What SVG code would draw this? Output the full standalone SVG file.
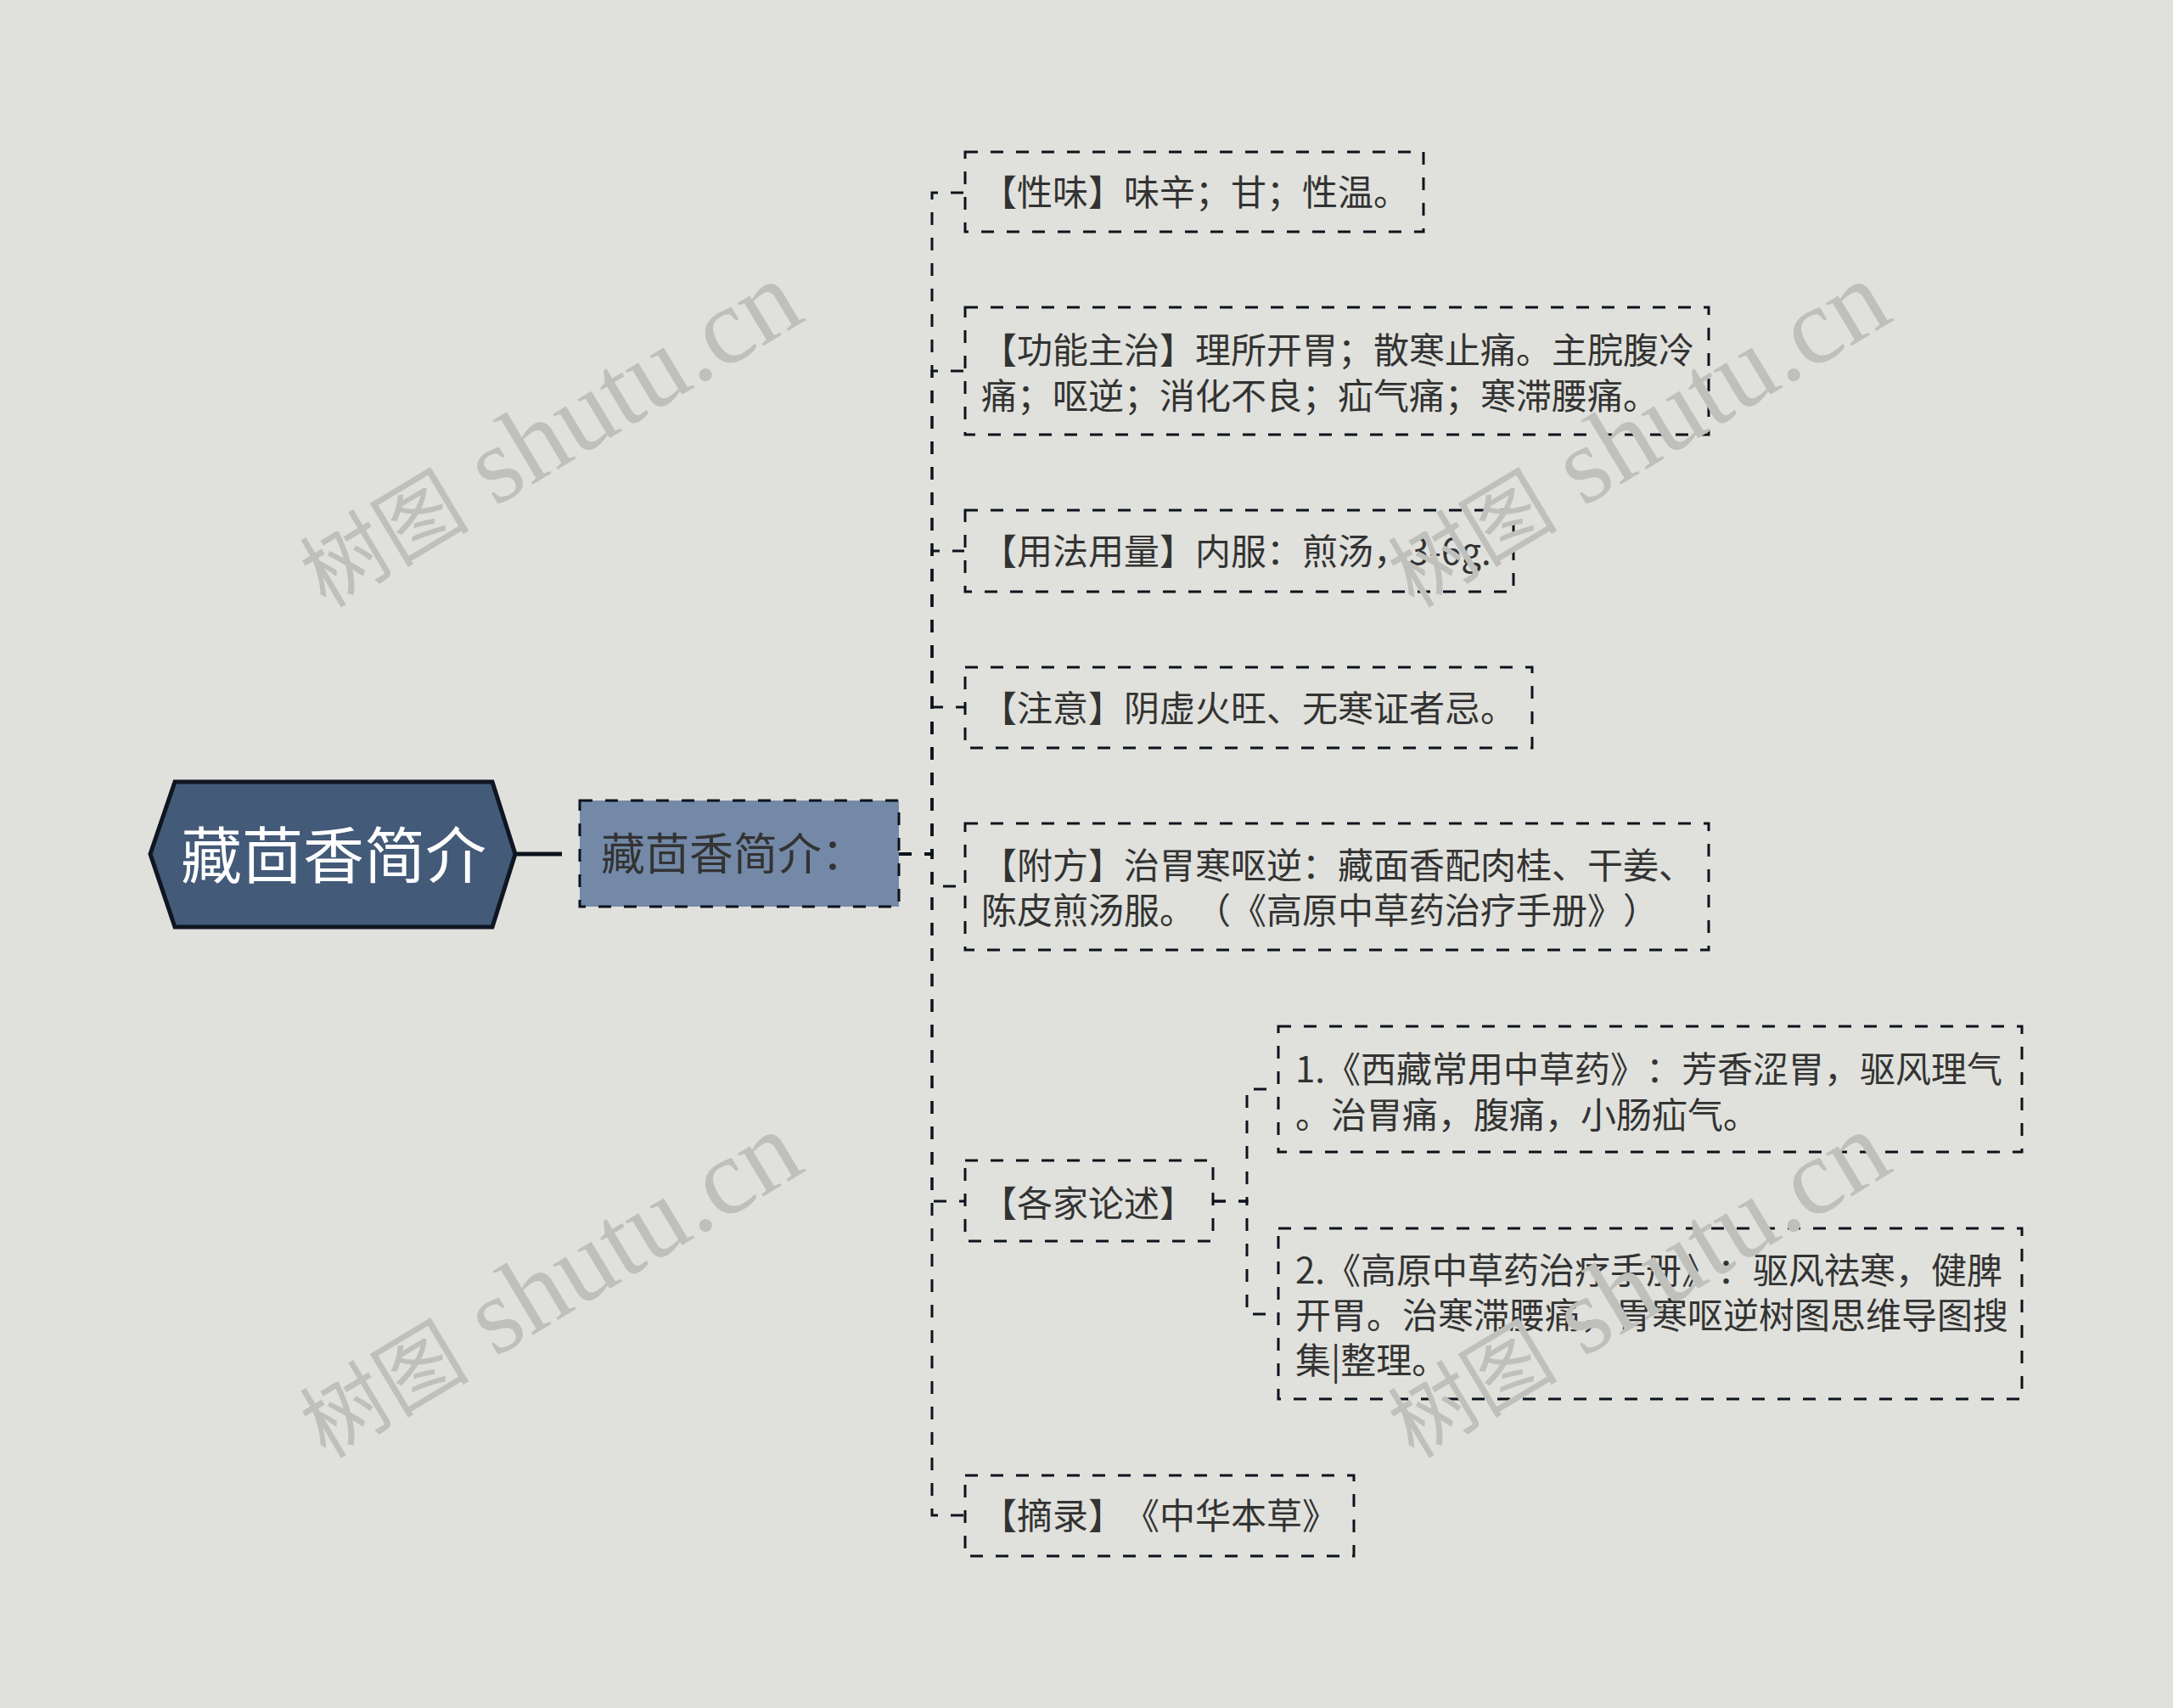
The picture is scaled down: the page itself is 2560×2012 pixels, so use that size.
<svg xmlns="http://www.w3.org/2000/svg" width="2560" height="2012" viewBox="0 0 2560 2012">
<defs>
<style>
.bg{fill:#e0e1dc}
.box{fill:none;stroke:#0d131c;stroke-width:3;stroke-dasharray:15 15}
.conn{fill:none;stroke:#0d131c;stroke-width:3;stroke-dasharray:15 15}
text{text-spacing-trim:space-all}
.t{font-family:"Noto Sans CJK SC","Noto Sans",sans-serif;font-size:42px;fill:#333333}
.wm{font-family:"Liberation Serif","Noto Sans CJK SC",serif;font-size:128px;fill:#bfc0bb;text-anchor:middle}
.wmc{font-size:100px}
</style>
</defs>
<rect class="bg" x="0" y="0" width="2560" height="2012"/>

<g id="connectors">
<line x1="607" y1="1006" x2="662" y2="1006" stroke="#0d131c" stroke-width="5"/>
<path class="conn" d="M1059 1006 H1098 V227 H1136"/>
<path class="conn" d="M1059 1006 H1098 V437 H1136"/>
<path class="conn" d="M1059 1006 H1098 V649 H1136"/>
<path class="conn" d="M1059 1006 H1098 V833 H1136"/>
<path class="conn" d="M1059 1006 H1098 V1044 H1136"/>
<path class="conn" d="M1059 1006 H1098 V1415 H1136"/>
<path class="conn" d="M1059 1006 H1098 V1785 H1136"/>
<path class="conn" d="M1429 1415 H1469 V1283 H1506"/>
<path class="conn" d="M1429 1415 H1469 V1548 H1506"/>
</g>

<g id="root">
<polygon points="177,1006 206,921 580,921 607,1006 580,1092 206,1092" fill="#435a78" stroke="#0f1622" stroke-width="5"/>
<text x="393" y="1034" text-anchor="middle" style="font-family:'Noto Sans CJK SC','Noto Sans',sans-serif;font-size:72px;fill:#ffffff">藏茴香简介</text>
</g>

<g id="sub">
<rect x="683" y="943" width="376" height="125" fill="#7489a8" stroke="#0d131c" stroke-width="3" stroke-dasharray="15 15"/>
<text x="708" y="1025" style="font-family:'Noto Sans CJK SC','Noto Sans',sans-serif;font-size:52px;fill:#333333">藏茴香简介：</text>
</g>

<g id="n1">
<rect class="box" x="1137" y="179" width="540" height="94"/>
<text class="t" x="1156" y="242">【性味】味辛；甘；性温。</text>
</g>

<g id="n2">
<rect class="box" x="1137" y="362" width="876" height="150"/>
<text class="t" x="1156" y="428">【功能主治】理所开胃；散寒止痛。主脘腹冷</text>
<text class="t" x="1156" y="482">痛；呕逆；消化不良；疝气痛；寒滞腰痛。</text>
</g>

<g id="n3">
<rect class="box" x="1137" y="601" width="646" height="96"/>
<text class="t" x="1156" y="665">【用法用量】内服：煎汤，3-6g.</text>
</g>

<g id="n4">
<rect class="box" x="1137" y="786" width="668" height="95"/>
<text class="t" x="1156" y="850">【注意】阴虚火旺、无寒证者忌。</text>
</g>

<g id="n5">
<rect class="box" x="1137" y="970" width="876" height="149"/>
<text class="t" x="1156" y="1035">【附方】治胃寒呕逆：藏面香配肉桂、干姜、</text>
<text class="t" x="1156" y="1088">陈皮煎汤服。（《高原中草药治疗手册》）</text>
</g>

<g id="n6">
<rect class="box" x="1137" y="1367" width="292" height="95"/>
<text class="t" x="1156" y="1433">【各家论述】</text>
</g>

<g id="n6a">
<rect class="box" x="1506" y="1209" width="876" height="148"/>
<text class="t" x="1526" y="1275">1.《西藏常用中草药》：芳香涩胃，驱风理气</text>
<text class="t" x="1526" y="1329">。治胃痛，腹痛，小肠疝气。</text>
</g>

<g id="n6b">
<rect class="box" x="1506" y="1447" width="876" height="201"/>
<text class="t" x="1526" y="1512">2.《高原中草药治疗手册》：驱风祛寒，健脾</text>
<text class="t" x="1526" y="1565">开胃。治寒滞腰痛，胃寒呕逆树图思维导图搜</text>
<text class="t" x="1526" y="1618">集|整理。</text>
</g>

<g id="n7">
<rect class="box" x="1137" y="1738" width="458" height="95"/>
<text class="t" x="1156" y="1801">【摘录】《中华本草》</text>
</g>

<g id="watermarks">
<text class="wm" x="0" y="38" transform="translate(648,514) rotate(-31)"><tspan class="wmc">树图</tspan> shutu.cn</text>
<text class="wm" x="0" y="38" transform="translate(1930,514) rotate(-31)"><tspan class="wmc">树图</tspan> shutu.cn</text>
<text class="wm" x="0" y="38" transform="translate(648,1516) rotate(-31)"><tspan class="wmc">树图</tspan> shutu.cn</text>
<text class="wm" x="0" y="38" transform="translate(1930,1516) rotate(-31)"><tspan class="wmc">树图</tspan> shutu.cn</text>
</g>
</svg>
